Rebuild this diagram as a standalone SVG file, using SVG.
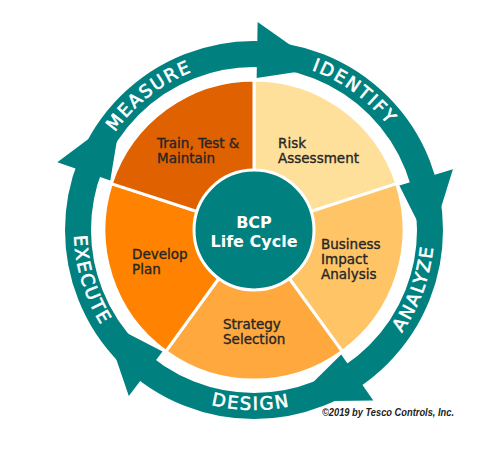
<svg xmlns="http://www.w3.org/2000/svg" width="500" height="462" viewBox="0 0 500 462">
<style>
.ring{fill:none;stroke:#00807F;stroke-width:26}
.arrow{fill:#00807F}
.slice{stroke:#fff;stroke-width:3;stroke-linejoin:round}
.lbl{font-family:"DejaVu Sans","Liberation Sans",sans-serif;font-size:13.5px;fill:#262626;stroke:#262626;stroke-width:0.35}
.rl{font-family:"DejaVu Sans","Liberation Sans",sans-serif;font-size:18px;fill:#fff;stroke:#fff;stroke-width:0.6;letter-spacing:1.8px}
.hub{font-family:"DejaVu Sans","Liberation Sans",sans-serif;font-size:16px;font-weight:bold;fill:#fff}
.copy{font-family:"Liberation Sans",Arial,sans-serif;font-size:10.5px;font-weight:bold;font-style:italic;fill:#222}
</style>
<defs>
<path id="pMeasure" d="M84.10,224.07 A170,170 0 0 1 289.35,63.71"/>
<path id="pIdentify" d="M212.87,65.05 A170,170 0 0 1 423.59,218.14"/>
<path id="pAnalyze" d="M315.56,399.14 A180,180 0 0 0 409.88,140"/>
<path id="pDesign" d="M114.11,343.28 A180,180 0 0 0 389.85,348.09"/>
<path id="pExecute" d="M103.04,131.97 A180,180 0 0 0 183.67,395.69"/>
</defs>
<rect width="500" height="462" fill="#fff"/>
<g id="connectors">
<circle class="ring" cx="254" cy="230" r="176"/>
<polygon class="arrow" points="257.63,22.03 322.77,67.99 256.65,78.02"/>
<polygon class="arrow" points="452.91,169.19 429.33,245.34 399.36,185.56"/>
<polygon class="arrow" points="373.30,400.38 293.59,401.49 341.18,354.51"/>
<polygon class="arrow" points="128.82,396.12 103.14,320.65 162.52,351.39"/>
<polygon class="arrow" points="57.33,162.28 121.17,114.53 110.28,180.51"/>
</g>
<g id="ring-labels">
<text class="rl"><textPath href="#pMeasure" startOffset="50%" text-anchor="middle">MEASURE</textPath></text>
<text class="rl"><textPath href="#pIdentify" startOffset="50%" text-anchor="middle">IDENTIFY</textPath></text>
<text class="rl"><textPath href="#pAnalyze" startOffset="50%" text-anchor="middle">ANALYZE</textPath></text>
<text class="rl"><textPath href="#pDesign" startOffset="50%" text-anchor="middle">DESIGN</textPath></text>
<text class="rl"><textPath href="#pExecute" startOffset="50%" text-anchor="middle">EXECUTE</textPath></text>
</g>
<g id="risk">
<path class="slice" fill="#FFE09B" d="M254,230 L254,80 A150,150 0 0 1 396.66,183.65 Z"/>
<text class="lbl" x="278" y="148">Risk</text>
<text class="lbl" x="278" y="163">Assessment</text>
</g>
<g id="business">
<path class="slice" fill="#FFC466" d="M254,230 L396.66,183.65 A150,150 0 0 1 342.17,351.35 Z"/>
<text class="lbl" x="321" y="249">Business</text>
<text class="lbl" x="321" y="264">Impact</text>
<text class="lbl" x="321" y="279">Analysis</text>
</g>
<g id="strategy">
<path class="slice" fill="#FFA83D" d="M254,230 L342.17,351.35 A150,150 0 0 1 165.83,351.35 Z"/>
<text class="lbl" x="223" y="329">Strategy</text>
<text class="lbl" x="223" y="344">Selection</text>
</g>
<g id="develop">
<path class="slice" fill="#FF8300" d="M254,230 L165.83,351.35 A150,150 0 0 1 111.34,183.65 Z"/>
<text class="lbl" x="132" y="259">Develop</text>
<text class="lbl" x="132" y="274">Plan</text>
</g>
<g id="train">
<path class="slice" fill="#E06100" d="M254,230 L111.34,183.65 A150,150 0 0 1 254,80 Z"/>
<text class="lbl" x="157" y="148">Train, Test &amp;</text>
<text class="lbl" x="157" y="163">Maintain</text>
</g>
<g id="hub">
<circle cx="254" cy="230" r="60" fill="#00807F" stroke="#fff" stroke-width="3"/>
<text class="hub" x="254" y="228" text-anchor="middle">BCP</text>
<text class="hub" x="254" y="247" text-anchor="middle">Life Cycle</text>
</g>
<text class="copy" x="322" y="416" textLength="132" lengthAdjust="spacingAndGlyphs">©2019 by Tesco Controls, Inc.</text>
</svg>
